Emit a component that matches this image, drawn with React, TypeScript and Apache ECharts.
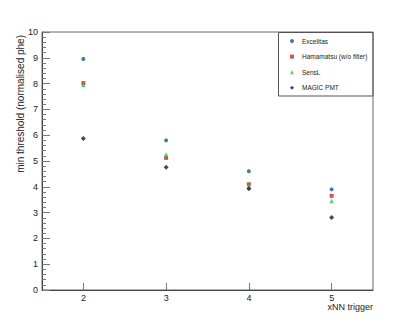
import React, { useEffect, useRef } from "react";
import * as echarts from "echarts";

const xCategories = [2, 3, 4, 5];
const yTicks = [0, 1, 2, 3, 4, 5, 6, 7, 8, 9, 10];
const excelitas = [8.95, 5.8, 4.6, 3.9];
const hamamatsu = [8.02, 5.12, 4.1, 3.65];
const sensl = [7.96, 5.25, 4.02, 3.45];
const magic = [5.87, 4.76, 3.92, 2.81];

const seriesNames = ["Excelitas", "Hamamatsu (w/o filter)", "SensL", "MAGIC PMT"];
const FONT = "Liberation Sans, Arial, Helvetica, sans-serif";

export default function App() {
  const ref = useRef<HTMLDivElement>(null);
  useEffect(() => {
    if (!ref.current) return;
    const chart = echarts.init(ref.current, undefined, { renderer: "svg" });
    const mk = (vals: number[]) => xCategories.map((x, i) => [x, vals[i]]);
    const defs = [
      { name: seriesNames[0], data: excelitas, symbol: "circle", size: 4, color: "#1d4f97" },
      { name: seriesNames[1], data: hamamatsu, symbol: "rect", size: 4, color: "#b8302e" },
      { name: seriesNames[2], data: sensl, symbol: "triangle", size: 4.5, color: "#33c433" },
      { name: seriesNames[3], data: magic, symbol: "diamond", size: 5, color: "#1a1a1a" },
    ];
    chart.setOption({
      animation: false,
      backgroundColor: "#ffffff",
      textStyle: { fontFamily: FONT },
      grid: {
        left: 42,
        top: 32,
        right: 42,
        bottom: 32,
        show: true,
        borderColor: "#666",
        borderWidth: 1,
        backgroundColor: "transparent",
      },
      legend: {
        orient: "vertical",
        left: 290,
        top: 37,
        itemWidth: 4,
        itemHeight: 4,
        itemGap: 7.6,
        padding: 0,
        data: seriesNames,
        textStyle: {
          fontSize: 6.5,
          lineHeight: 8,
          color: "#222",
          fontFamily: FONT,
          padding: [0, 0, 0, 3],
        },
      },
      xAxis: {
        type: "value",
        min: 1.5,
        max: 5.5,
        splitLine: { show: false },
        axisLine: { show: true, lineStyle: { color: "#444", width: 1 } },
        axisTick: {
          show: true,
          inside: true,
          length: 7,
          customValues: xCategories,
          lineStyle: { color: "#777" },
        },
        axisLabel: {
          customValues: xCategories,
          fontSize: 9,
          color: "#222",
          margin: 3,
          fontFamily: FONT,
        },
      },
      yAxis: {
        type: "value",
        min: 0,
        max: 10,
        interval: 1,
        splitLine: { show: false },
        axisLine: { show: true, lineStyle: { color: "#444", width: 1 } },
        axisTick: { show: true, inside: true, length: 8, lineStyle: { color: "#777" } },
        minorTick: { show: true, splitNumber: 5, length: 4, lineStyle: { color: "#777" } },
        axisLabel: {
          fontSize: 9,
          color: "#222",
          margin: 4,
          fontFamily: FONT,
          customValues: yTicks,
        },
      },
      graphic: [
        {
          type: "rect",
          shape: { x: 278.5, y: 32.5, width: 94.5, height: 63.5 },
          style: { fill: "none", stroke: "#555", lineWidth: 1 },
          z: 10,
        },
        {
          type: "text",
          x: 373,
          y: 302,
          style: {
            text: "xNN trigger",
            align: "right",
            verticalAlign: "top",
            fontSize: 9,
            fill: "#222",
            fontFamily: FONT,
          },
        },
        {
          type: "text",
          x: 20,
          y: 35,
          rotation: Math.PI / 2,
          style: {
            text: "min threshold (normalised phe)",
            align: "right",
            verticalAlign: "middle",
            fontSize: 10,
            fill: "#222",
            fontFamily: FONT,
          },
        },
      ],
      series: defs.map((d) => ({
        type: "scatter",
        name: d.name,
        data: mk(d.data),
        symbol: d.symbol,
        symbolSize: d.size,
        symbolKeepAspect: true,
        itemStyle: { color: d.color },
      })),
    });
    return () => chart.dispose();
  }, []);
  return (
    <div
      ref={ref}
      style={{ position: "fixed", left: 0, top: 0, width: 415, height: 322, background: "#fff" }}
    />
  );
}
